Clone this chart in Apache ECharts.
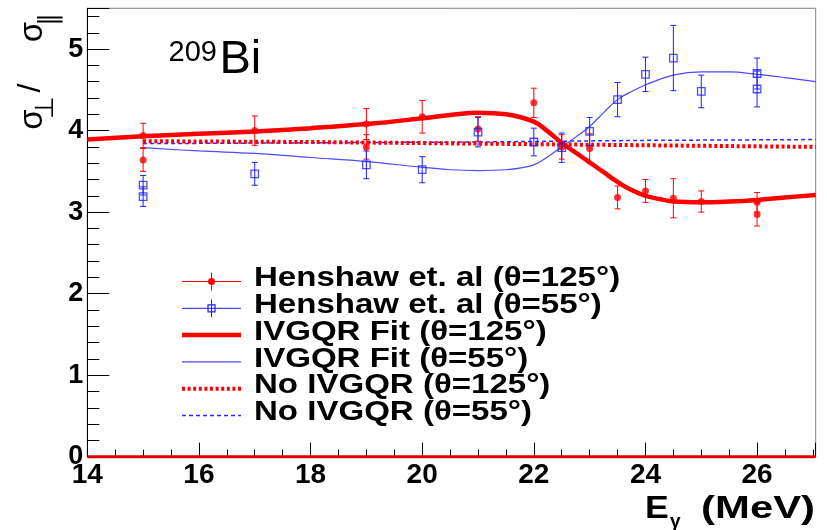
<!DOCTYPE html>
<html>
<head>
<meta charset="utf-8">
<script src="https://cdn.jsdelivr.net/npm/echarts@6/dist/echarts.min.js"></script>
<style>
  html, body { margin: 0; padding: 0; background: #fff; }
  #chart { width: 827px; height: 530px; }
</style>
</head>
<body>
<div id="chart"></div>
<script>
// Henshaw et al. measurements, theta = 125 deg: energy, ratio, error
const h125E   = [15,   15,   17,   19,   19,   20,   21,   22,   22.5, 23,   23.5, 24,   24.5, 25,   26,   26];
const h125Y   = [3.94, 3.64, 4.00, 4.08, 3.80, 4.17, 4.02, 4.34, 3.80, 3.78, 3.18, 3.26, 3.17, 3.13, 3.12, 2.97];
const h125Err = [0.15, 0.14, 0.18, 0.19, 0.15, 0.20, 0.15, 0.18, 0.15, 0.18, 0.14, 0.14, 0.24, 0.13, 0.12, 0.14];

// Henshaw et al. measurements, theta = 55 deg
const h55E   = [15,   15,   17,   19,   20,   21,   22,   22.5, 23,   23.5, 24,   24.5, 25,   26,   26];
const h55Y   = [3.33, 3.19, 3.47, 3.58, 3.52, 3.98, 3.86, 3.79, 3.99, 4.38, 4.69, 4.89, 4.48, 4.70, 4.51];
const h55Err = [0.12, 0.12, 0.14, 0.17, 0.16, 0.18, 0.17, 0.18, 0.17, 0.21, 0.21, 0.40, 0.20, 0.19, 0.22];

// IVGQR fit, theta = 125 deg
const fit125E = [14,   15,   16,   17,   18,   19,   20,   20.5, 21,   21.5, 22,   22.25, 22.5, 22.75, 23,   23.25, 23.5, 23.75, 24,   24.25, 24.5, 25,   25.5, 26,   26.5, 27.05];
const fit125Y = [3.89, 3.93, 3.96, 3.99, 4.03, 4.08, 4.15, 4.19, 4.22, 4.20, 4.11, 3.99,  3.85, 3.73,  3.61, 3.49,  3.37, 3.27,  3.20, 3.16,  3.13, 3.12, 3.13, 3.15, 3.18, 3.21];

// IVGQR fit, theta = 55 deg
const fit55E = [15,   16,   17,   18,   19,   20,   20.5, 21,   21.5, 22,   22.25, 22.5, 22.75, 23,   23.25, 23.5, 23.75, 24,   24.5, 25,   25.5, 26,   26.5, 27.05];
const fit55Y = [3.79, 3.75, 3.72, 3.67, 3.62, 3.55, 3.52, 3.51, 3.52, 3.58, 3.68,  3.80, 3.92,  4.05, 4.22,  4.38, 4.48,  4.56, 4.68, 4.72, 4.72, 4.69, 4.65, 4.60];

// No IVGQR, both angles
const noE    = [15,   18,   21,   24,   27.05];
const no125Y = [3.87, 3.86, 3.84, 3.82, 3.80];
const no55Y  = [3.84, 3.85, 3.86, 3.88, 3.89];

// zero reference line
const zeroE = [14, 27.05];
const zeroY = [0, 0];

// axis ranges and ticks
const xMin = 14, xMax = 27.05, xStep = 2, xMinorStep = 0.5;
const yMin = 0, yMax = 5.5, yStep = 1, yMinorStep = 0.2;

const RED = '#ff0000';
const BLUE = '#1f1fff';
const LIGHTBLUE = '#4a4aff';
const DASHBLUE = '#2a2aff';
const FONT = '"Liberation Sans", Arial, sans-serif';

const zip = (xs, ys) => xs.map((x, i) => [x, ys[i]]);
const withErr = (xs, ys, es) => xs.map((x, i) => [x, ys[i], ys[i] - es[i], ys[i] + es[i]]);

function errorBars(color) {
  return function (params, api) {
    const x = api.value(0);
    const lo = api.coord([x, api.value(2)]);
    const hi = api.coord([x, api.value(3)]);
    const cap = 3;
    const st = { stroke: color, lineWidth: 1 };
    return {
      type: 'group',
      children: [
        { type: 'line', shape: { x1: lo[0], y1: lo[1], x2: hi[0], y2: hi[1] }, style: st },
        { type: 'line', shape: { x1: lo[0] - cap, y1: lo[1], x2: lo[0] + cap, y2: lo[1] }, style: st },
        { type: 'line', shape: { x1: hi[0] - cap, y1: hi[1], x2: hi[0] + cap, y2: hi[1] }, style: st }
      ]
    };
  };
}

// ---- legend drawn as graphic elements ----
const legendRows = [
  { text: 'Henshaw et. al (\u03b8=125\u00b0)', kind: 'pt125' },
  { text: 'Henshaw et. al (\u03b8=55\u00b0)',  kind: 'pt55' },
  { text: 'IVGQR Fit (\u03b8=125\u00b0)',       kind: 'fit125' },
  { text: 'IVGQR Fit (\u03b8=55\u00b0)',        kind: 'fit55' },
  { text: 'No IVGQR (\u03b8=125\u00b0)',        kind: 'no125' },
  { text: 'No IVGQR (\u03b8=55\u00b0)',         kind: 'no55' }
];
const legX1 = 182, legX2 = 241, legMid = 211.5, legTextX = 254, legTop = 281.5, legStep = 26.8;
const legendGraphics = [];
legendRows.forEach((r, i) => {
  const y = legTop + i * legStep;
  const line = (stroke, w, dash) => ({
    type: 'line', shape: { x1: legX1, y1: y, x2: legX2, y2: y },
    style: { stroke: stroke, lineWidth: w, lineDash: dash || null }
  });
  if (r.kind === 'pt125') {
    legendGraphics.push(line(RED, 1));
    legendGraphics.push({ type: 'line', shape: { x1: legMid, y1: y - 9, x2: legMid, y2: y + 9 }, style: { stroke: RED, lineWidth: 1 } });
    legendGraphics.push({ type: 'circle', shape: { cx: legMid, cy: y, r: 3.5 }, style: { fill: RED } });
  } else if (r.kind === 'pt55') {
    legendGraphics.push(line(BLUE, 1));
    legendGraphics.push({ type: 'line', shape: { x1: legMid, y1: y - 9, x2: legMid, y2: y + 9 }, style: { stroke: BLUE, lineWidth: 1 } });
    legendGraphics.push({ type: 'rect', shape: { x: legMid - 3.5, y: y - 3.5, width: 7, height: 7 }, style: { fill: 'rgba(0,0,0,0)', stroke: BLUE, lineWidth: 1.2 } });
  } else if (r.kind === 'fit125') {
    legendGraphics.push(line(RED, 4.5));
  } else if (r.kind === 'fit55') {
    legendGraphics.push(line(LIGHTBLUE, 1.2));
  } else if (r.kind === 'no125') {
    legendGraphics.push(line(RED, 4, [3, 2.6]));
  } else {
    legendGraphics.push(line(DASHBLUE, 1.5, [4, 3]));
  }
  legendGraphics.push({
    type: 'text', x: legTextX, y: y - 3, scaleX: 1.18,
    style: { text: r.text, font: 'bold 28px ' + FONT, fill: '#000', align: 'left', verticalAlign: 'middle' }
  });
});

// ---- axis titles and nucleus label ----
const rotText = (txt, x, y, size) => ({
  type: 'text', x: x, y: y, rotation: Math.PI / 2,
  style: { text: txt, font: size + 'px ' + FONT, fill: '#000', align: 'center', verticalAlign: 'middle' }
});
const titleGraphics = [
  rotText('\u03c3', 33, 119.5, 33),
  rotText('\u22a5', 46, 107, 26),
  rotText('/', 31, 88, 32),
  rotText('\u03c3', 33, 32, 33),
  rotText('\u2225', 50, 19, 26),
  { type: 'text', x: 217, y: 52.5, style: { text: '209', font: '29px ' + FONT, fill: '#000', align: 'right', verticalAlign: 'middle' } },
  { type: 'text', x: 219.5, y: 60.5, style: { text: 'Bi', font: '47px ' + FONT, fill: '#000', align: 'left', verticalAlign: 'middle' } },
  { type: 'text', x: 645, y: 509, scaleX: 1.15, style: { text: 'E', font: 'bold 31px ' + FONT, fill: '#000', align: 'left', verticalAlign: 'middle' } },
  { type: 'text', x: 670, y: 522, style: { text: '\u03b3', font: 'bold 19px ' + FONT, fill: '#000', align: 'left', verticalAlign: 'middle' } },
  { type: 'text', x: 815, y: 509, scaleX: 1.35, style: { text: '(MeV)', font: 'bold 31px ' + FONT, fill: '#000', align: 'right', verticalAlign: 'middle' } }
];

const labelStyle = { fontWeight: 'bold', color: '#000', fontFamily: FONT };

const option = {
  animation: false,
  backgroundColor: '#fff',
  grid: { left: 87.3, right: 11.3, top: 8.3, bottom: 73.3, show: true, borderColor: '#808080', borderWidth: 1, backgroundColor: 'transparent' },
  xAxis: [
    {
      type: 'value', min: xMin, max: xMax, interval: xStep, position: 'bottom',
      axisLine: { show: true, lineStyle: { color: '#000', width: 1 } },
      axisTick: { show: true, inside: true, length: 14, lineStyle: { color: '#000' } },
      axisLabel: Object.assign({ margin: 5, fontSize: 28, formatter: v => (Math.abs(v - Math.round(v)) < 1e-6 && Math.round(v) % 2 === 0 ? String(Math.round(v)) : '') }, labelStyle),
      splitLine: { show: false }
    },
    {
      type: 'value', min: xMin, max: xMax, interval: xMinorStep, position: 'bottom',
      axisLine: { show: false },
      axisTick: { show: true, inside: true, length: 7, lineStyle: { color: '#000' } },
      axisLabel: { show: false }, splitLine: { show: false }
    }
  ],
  yAxis: [
    {
      type: 'value', min: yMin, max: yMax, interval: yStep, position: 'left',
      axisLine: { show: true, lineStyle: { color: '#000', width: 1 } },
      axisTick: { show: true, inside: true, length: 22, lineStyle: { color: '#000' } },
      axisLabel: Object.assign({ margin: 4, fontSize: 27, padding: [4, 0, 0, 0], formatter: v => (Math.abs(v - Math.round(v)) < 1e-6 ? String(Math.round(v)) : '') }, labelStyle),
      splitLine: { show: false }
    },
    {
      type: 'value', min: yMin, max: yMax, interval: yMinorStep, position: 'left',
      axisLine: { show: false },
      axisTick: { show: true, inside: true, length: 12, lineStyle: { color: '#000' } },
      axisLabel: { show: false }, splitLine: { show: false }
    }
  ],
  graphic: { elements: legendGraphics.concat(titleGraphics) },
  series: [
    {
      name: 'No IVGQR 55', type: 'line', data: zip(noE, no55Y), showSymbol: false, symbol: 'none',
      color: DASHBLUE,
      lineStyle: { color: DASHBLUE, width: 1.5, type: [4, 3] }, z: 2
    },
    {
      name: 'No IVGQR 125', type: 'line', data: zip(noE, no125Y), showSymbol: false, symbol: 'none',
      color: RED,
      lineStyle: { color: RED, width: 4, type: [3, 2.6] }, z: 2
    },
    {
      name: 'IVGQR Fit 55', type: 'line', data: zip(fit55E, fit55Y), smooth: 0.4, showSymbol: false, symbol: 'none',
      color: LIGHTBLUE,
      lineStyle: { color: LIGHTBLUE, width: 1.2 }, z: 3
    },
    {
      name: 'IVGQR Fit 125', type: 'line', data: zip(fit125E, fit125Y), smooth: 0.4, showSymbol: false, symbol: 'none',
      color: RED,
      lineStyle: { color: RED, width: 4.5 }, z: 3
    },
    {
      name: 'Henshaw 125 err', type: 'custom', data: withErr(h125E, h125Y, h125Err),
      encode: { x: 0, y: [1, 2, 3] }, renderItem: errorBars(RED), z: 4
    },
    {
      name: 'Henshaw 125', type: 'scatter', data: zip(h125E, h125Y), symbol: 'circle', symbolSize: 7,
      itemStyle: { color: RED }, z: 5
    },
    {
      name: 'Henshaw 55 err', type: 'custom', data: withErr(h55E, h55Y, h55Err),
      encode: { x: 0, y: [1, 2, 3] }, renderItem: errorBars(BLUE), z: 6
    },
    {
      name: 'Henshaw 55', type: 'scatter', data: zip(h55E, h55Y), symbol: 'rect', symbolSize: 7.5,
      itemStyle: { color: 'rgba(255,255,255,0)', borderColor: BLUE, borderWidth: 1.3 }, z: 7
    },
    {
      name: 'zero', type: 'line', data: zip(zeroE, zeroY), showSymbol: false, symbol: 'none', clip: false,
      color: '#e00000',
      lineStyle: { color: '#e00000', width: 3 }, z: 8
    }
  ]
};

const chart = echarts.init(document.getElementById('chart'), null, { renderer: 'canvas' });
chart.setOption(option);
</script>
</body>
</html>
